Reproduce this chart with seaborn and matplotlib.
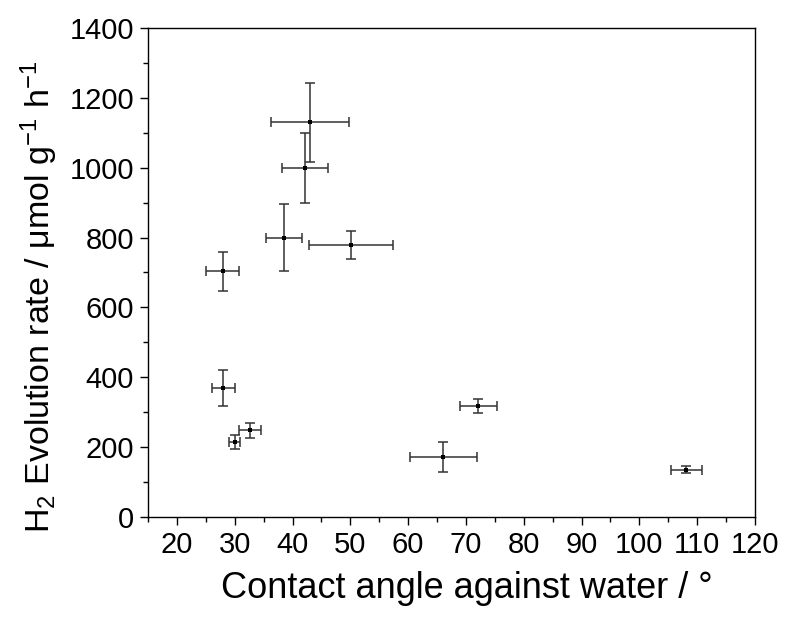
import matplotlib
matplotlib.use("Agg")
import matplotlib.pyplot as plt
import seaborn as sns
import pandas as pd
from matplotlib.ticker import MultipleLocator

# Contact angle (deg) and H2 evolution rate (umol g-1 h-1), with errors
angle = [43.0, 42.1, 38.6, 50.1, 27.9, 28.0, 32.6, 30.0, 72.1, 66.1, 108.1]
angle_err = [6.7, 4.0, 3.1, 7.2, 2.9, 2.0, 1.9, 1.0, 3.2, 5.8, 2.7]
rate = [1130, 1000, 800, 778, 703, 370, 248, 214, 318, 172, 135]
rate_err = [113, 100, 95, 40, 57, 51, 22, 20, 21, 42, 10]

df = pd.DataFrame({"angle": angle, "rate": rate,
                   "angle_err": angle_err, "rate_err": rate_err})

sns.set_style("ticks")
plt.rcParams['font.family'] = ['Liberation Sans', 'DejaVu Sans']
plt.rcParams['mathtext.default'] = 'regular'

fig = plt.figure(figsize=(7.85, 6.19), dpi=100)
ax = fig.add_axes([0.1885, 0.1648, 0.7733, 0.79])

ax.errorbar(df["angle"], df["rate"], xerr=df["angle_err"], yerr=df["rate_err"],
            fmt="none", ecolor="#333333", elinewidth=1.1, capsize=3.6, capthick=1.1)
sns.scatterplot(data=df, x="angle", y="rate", ax=ax, marker="s", s=10,
                color="black", edgecolor="black", linewidth=0, zorder=3)

ax.set_xlim(15, 120)
ax.set_ylim(0, 1400)
ax.xaxis.set_major_locator(MultipleLocator(10))
ax.xaxis.set_minor_locator(MultipleLocator(5))
ax.yaxis.set_major_locator(MultipleLocator(200))
ax.yaxis.set_minor_locator(MultipleLocator(100))
ax.tick_params(which="major", direction="out", length=6, width=1, labelsize=21,
               color="black", labelcolor="black", pad=4)
ax.tick_params(which="minor", direction="out", length=3.5, width=1, color="black")
for s in ax.spines.values():
    s.set_linewidth(1.0)
    s.set_color("black")

ax.set_xlabel("Contact angle against water / °", fontsize=26, labelpad=9,
              color="black")
ax.xaxis.label.set_x(0.526)
ax.set_ylabel("H$_2$ Evolution rate / μmol g$^{-1}$ h$^{-1}$", fontsize=24.5,
              color="black")
ax.yaxis.set_label_coords(-0.145, 0.45)

fig.savefig("out.png", dpi=100)
